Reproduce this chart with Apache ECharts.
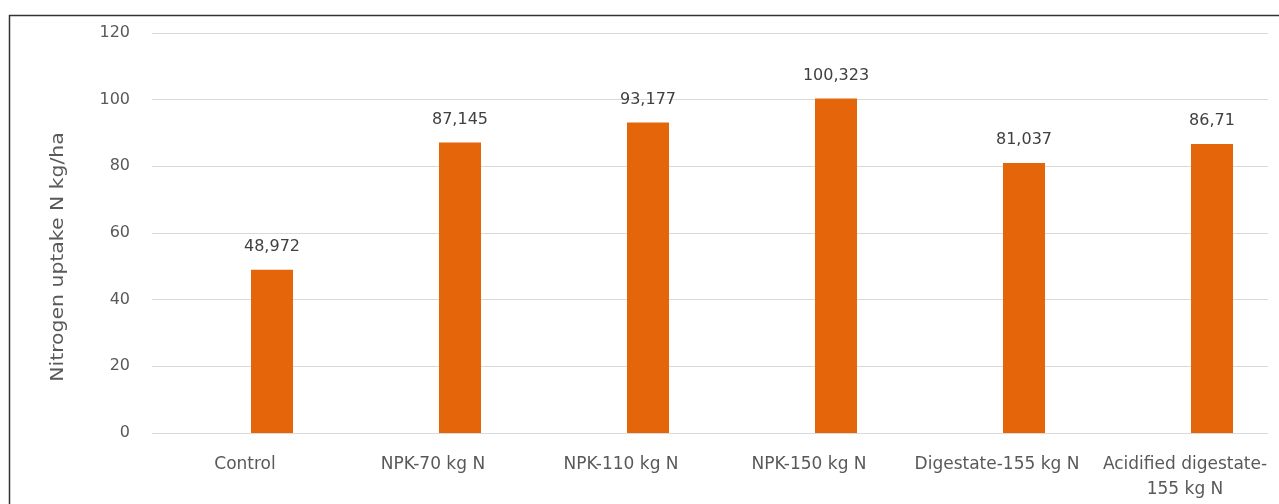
<!DOCTYPE html>
<html>
<head>
<meta charset="utf-8">
<script src="https://cdn.jsdelivr.net/npm/echarts@6/dist/echarts.min.js"></script>
<style>
html,body{margin:0;padding:0;background:#fff;}
#chart{width:1279px;height:504px;}
</style>
</head>
<body>
<div id="chart"></div>
<script>
const categories = ['Control', 'NPK-70 kg N', 'NPK-110 kg N', 'NPK-150 kg N', 'Digestate-155 kg N', 'Acidified digestate-\n155 kg N'];
const uptakeValues = [48.972, 87.145, 93.177, 100.323, 81.037, 86.71];
const yTicks = [0, 20, 40, 60, 80, 100, 120];
const yTitle = 'Nitrogen uptake N kg/ha';

const FONT = 'DejaVu Sans';
const TXT = '#595959';

const chart = echarts.init(document.getElementById('chart'), null, {renderer: 'canvas'});
chart.setOption({
  backgroundColor: '#ffffff',
  animation: false,
  grid: [
    {left: 151, right: 0, top: 33, bottom: 71},
    {left: 152, right: 11, top: 33, bottom: 71}
  ],
  xAxis: [
    {gridIndex: 0, type: 'category', data: categories,
     axisLine: {show: false}, axisTick: {show: false},
     axisLabel: {color: TXT, fontFamily: FONT, fontSize: 17, margin: 19, lineHeight: 25, interval: 0}},
    {gridIndex: 1, type: 'category', data: categories, show: false}
  ],
  yAxis: [
    {gridIndex: 0, type: 'value', min: yTicks[0], max: yTicks[yTicks.length-1], interval: 20, show: false, splitLine: {show: false}},
    {gridIndex: 1, type: 'value', min: yTicks[0], max: yTicks[yTicks.length-1], interval: 20,
     axisLine: {show: false}, axisTick: {show: false},
     axisLabel: {color: TXT, fontFamily: FONT, fontSize: 16, margin: 22},
     splitLine: {lineStyle: {color: '#D9D9D9', width: 1}}}
  ],
  series: [
    {type: 'bar', xAxisIndex: 0, yAxisIndex: 0, data: categories.map(() => null), barWidth: 42, barGap: '28.6%'},
    {type: 'bar', xAxisIndex: 0, yAxisIndex: 0, data: uptakeValues, barWidth: 42, barGap: '28.6%',
     itemStyle: {color: '#E5660A'},
     label: {show: true, position: 'top', distance: 15, color: '#404040', fontFamily: FONT, fontSize: 16,
       formatter: p => String(p.value).replace('.', ',')}}
  ],
  graphic: [
    {type: 'rect', shape: {x: 9.5, y: 15.5, width: 1300, height: 600},
     style: {fill: 'none', stroke: '#333333', lineWidth: 1.5}, silent: true},
    {type: 'text', x: 59, y: 257, rotation: Math.PI / 2, scaleX: 1.2, scaleY: 1,
     style: {text: yTitle, fill: TXT, font: '17px "DejaVu Sans"', textAlign: 'center', textVerticalAlign: 'middle'}}
  ]
});
</script>
</body>
</html>
